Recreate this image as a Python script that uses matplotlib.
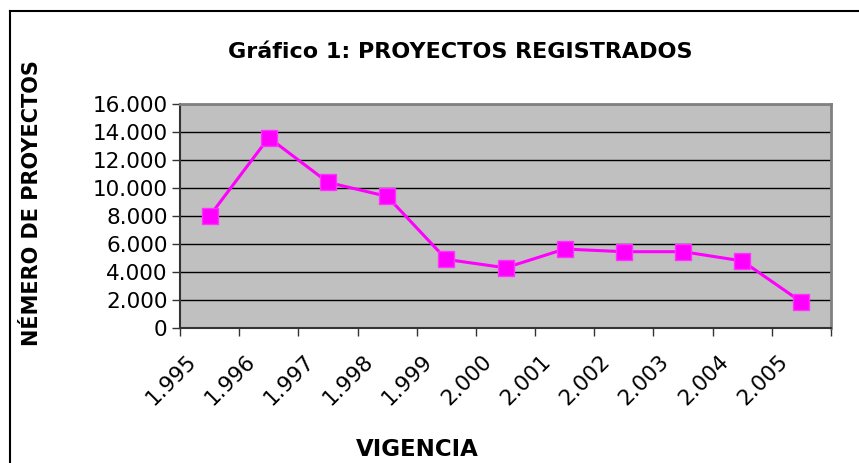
import matplotlib
matplotlib.use("Agg")
import matplotlib.pyplot as plt
from matplotlib.lines import Line2D
from matplotlib.ticker import FixedLocator, FuncFormatter
from matplotlib.transforms import ScaledTranslation

# datos
vigencias = ["1.995", "1.996", "1.997", "1.998", "1.999", "2.000",
             "2.001", "2.002", "2.003", "2.004", "2.005"]
proyectos = [8000, 13600, 10400, 9400, 4900, 4300, 5640, 5450, 5450, 4790, 1860]
y_ticks = [0, 2000, 4000, 6000, 8000, 10000, 12000, 14000, 16000]

W, H = 859, 463
fig = plt.figure(figsize=(W / 100, H / 100), dpi=100)
fig.patch.set_facecolor("white")

def px(x, y):
    return x / W, 1 - y / H

l, t = px(180, 104)
r, b = px(831, 328)
ax = fig.add_axes([l, b, r - l, t - b])
ax.set_facecolor("#C0C0C0")

x = list(range(len(vigencias)))
ax.plot(x, proyectos, color="#FF00FF", lw=2.2, marker="s", ms=11,
        mfc="#FF00FF", mec="#FF33FF", zorder=3, clip_on=False)

ax.set_xlim(-0.5, len(vigencias) - 0.5)
ax.set_ylim(0, 16000)
ax.set_yticks(y_ticks)
ax.yaxis.set_major_formatter(FuncFormatter(lambda v, p: f"{int(v):,}".replace(",", ".")))
ax.grid(axis="y", color="black", lw=1)
ax.set_axisbelow(True)

ax.set_xticks(x)
ax.set_xticklabels([])
# etiquetas giradas, desplazadas como en Excel
off = ScaledTranslation(-24 / 100, -23 / 100, fig.dpi_scale_trans)
for i, lab in zip(x, vigencias):
    ax.text(i, 0, lab, rotation=45, ha="right", va="top", rotation_mode="anchor",
            fontsize=15.5, transform=ax.get_xaxis_transform() + off)
ax.xaxis.set_minor_locator(FixedLocator([i - 0.5 for i in range(len(vigencias) + 1)]))
ax.tick_params(axis="x", which="major", length=0)
ax.tick_params(axis="x", which="minor", length=6, width=1, color="#333333")
ax.tick_params(axis="y", length=6, width=1, color="#333333", labelsize=15.5, pad=3)

for s in ["left", "bottom"]:
    ax.spines[s].set_color("#333333")
    ax.spines[s].set_linewidth(1.5)
for s in ["top", "right"]:
    ax.spines[s].set_color("#808080")
    ax.spines[s].set_linewidth(2)

tx, ty = px(460, 52)
fig.text(tx, ty, "Gráfico 1: PROYECTOS REGISTRADOS", ha="center", va="center",
         fontsize=16, fontweight="bold")
yx, yy = px(32, 203)
fig.text(yx, yy, "NÉMERO DE PROYECTOS", ha="center", va="center", rotation=90,
         fontsize=15, fontweight="bold")
xx, xy = px(417, 449)
fig.text(xx, xy, "VIGENCIA", ha="center", va="center", fontsize=16.5, fontweight="bold")

# marco del área de gráfico
x0, y0 = px(10, 11)
fig.add_artist(Line2D([x0, 1], [y0, y0], color="black", lw=1.5, transform=fig.transFigure))
fig.add_artist(Line2D([x0, x0], [y0, 0], color="black", lw=1.5, transform=fig.transFigure))

fig.savefig("out.png", dpi=100)
